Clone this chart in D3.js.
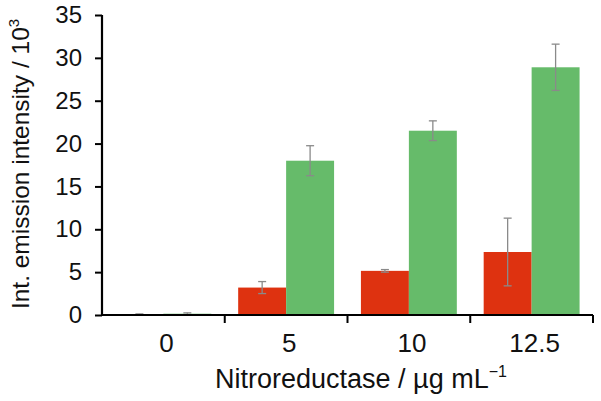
<!DOCTYPE html>
<html><head><meta charset="utf-8">
<script src="https://cdn.jsdelivr.net/npm/d3@7"></script>
<style>body{margin:0;background:#fff}text{font-family:"Liberation Sans",Arial,sans-serif}</style>
</head><body><svg id="c" width="601" height="401"></svg>
<script>
const categories = ["0", "5", "10", "12.5"];
const redValues = [0.08, 3.2, 5.15, 7.35];
const redErrors = [0.05, 0.7, 0.15, 3.95];
const greenValues = [0.15, 18.0, 21.5, 28.9];
const greenErrors = [0.1, 1.75, 1.15, 2.7];
const yTicks = [0, 5, 10, 15, 20, 25, 30, 35];
const seriesNames = ["red", "green"];
const colors = {red: "#de3210", green: "#66bb6a"};

const svg = d3.select("#c");
const m = {l: 102, r: 8, t: 15, b: 86};
const W = 601, H = 401;
const x = d3.scaleBand().domain(categories).range([m.l, W - m.r]).paddingInner(0).paddingOuter(0);
const x1 = d3.scaleBand().domain(seriesNames).range([0, x.bandwidth()]).paddingInner(0).paddingOuter(0.28);
const y = d3.scaleLinear().domain([0, 35]).range([H - m.b, m.t]);

const data = [];
categories.forEach((c, i) => {
  data.push({c, s: "red", v: redValues[i], e: redErrors[i]});
  data.push({c, s: "green", v: greenValues[i], e: greenErrors[i]});
});

svg.append("g").selectAll("rect").data(data).join("rect")
  .attr("x", d => x(d.c) + x1(d.s)).attr("width", x1.bandwidth())
  .attr("y", d => y(d.v)).attr("height", d => y(0) - y(d.v))
  .attr("fill", d => colors[d.s]);

const eb = svg.append("g").attr("stroke", "#8a8a8a").attr("stroke-width", 1.3);
data.forEach(d => {
  const cx = x(d.c) + x1(d.s) + x1.bandwidth() / 2;
  eb.append("line").attr("x1", cx).attr("x2", cx).attr("y1", y(d.v + d.e)).attr("y2", y(Math.max(0, d.v - d.e)));
  eb.append("line").attr("x1", cx - 4).attr("x2", cx + 4).attr("y1", y(d.v + d.e)).attr("y2", y(d.v + d.e));
  eb.append("line").attr("x1", cx - 4).attr("x2", cx + 4).attr("y1", y(Math.max(0, d.v - d.e))).attr("y2", y(Math.max(0, d.v - d.e)));
});

const ya = svg.append("g").attr("transform", `translate(${m.l},0)`)
  .call(d3.axisLeft(y).tickValues(yTicks).tickSize(7).tickPadding(13));
ya.select(".domain").attr("stroke-width", 2.2).attr("d", `M0,${y(35)}V${y(0)}`);
ya.selectAll(".tick line").attr("stroke-width", 2);
ya.selectAll("text").attr("font-size", 24).attr("fill", "#111").attr("font-family", '"Liberation Sans",Arial,sans-serif');

const xa = svg.append("g").attr("transform", `translate(0,${y(0)})`)
  .call(d3.axisBottom(x).tickSize(0).tickPadding(19));
xa.select(".domain").attr("stroke-width", 2.2).attr("d", `M${m.l},0H${W - m.r}`);
xa.selectAll(".tick text").attr("font-size", 26).attr("fill", "#111").attr("dx", 3)
  .attr("font-family", '"Liberation Sans",Arial,sans-serif');
const bounds = categories.map(c => x(c)).concat([x(categories[categories.length-1]) + x.bandwidth()]).slice(1);
xa.selectAll(".bt").data(bounds).join("line").attr("class", "bt")
  .attr("x1", d => d).attr("x2", d => d).attr("y1", 0).attr("y2", 8)
  .attr("stroke", "#000").attr("stroke-width", 2);

const yl = svg.append("text").attr("transform", `translate(29,164) rotate(-90)`)
  .attr("text-anchor", "middle").attr("font-size", 24.5).attr("fill", "#111");
yl.append("tspan").text("Int. emission intensity / 10");
yl.append("tspan").text("3").attr("font-size", 15).attr("dy", -10);

const xl = svg.append("text").attr("x", 215).attr("y", 388).attr("text-anchor", "start")
  .attr("font-size", 27).attr("fill", "#111");
xl.append("tspan").text("Nitroreductase / µg mL");
xl.append("tspan").text("−1").attr("font-size", 16).attr("dy", -11);
</script></body></html>
